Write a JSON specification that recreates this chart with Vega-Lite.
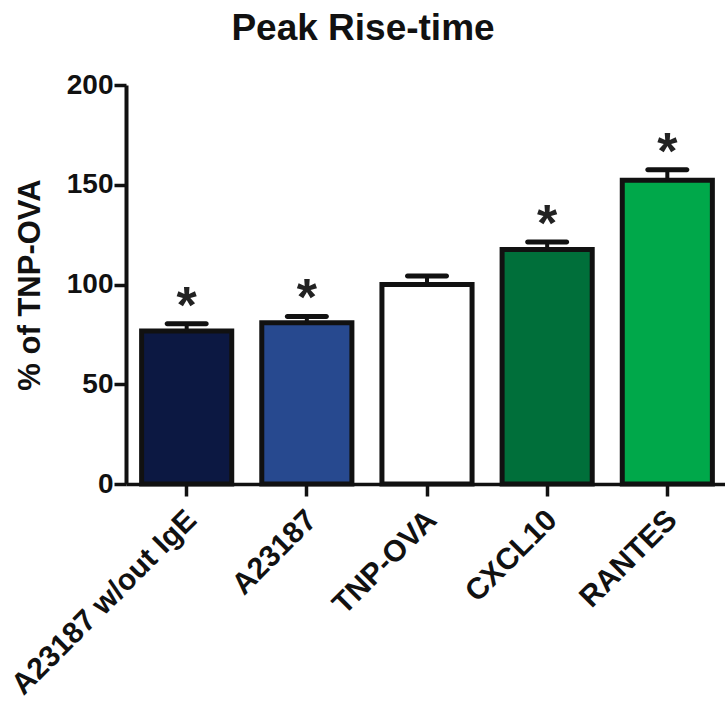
{
  "$schema": "https://vega.github.io/schema/vega-lite/v6.json",
  "autosize": "none",
  "padding": {"left": 126, "top": 85, "right": 0, "bottom": 220},
  "width": 602,
  "height": 399,
  "background": "white",
  "title": {"text": "Peak Rise-time", "font": "Liberation Sans", "fontSize": 37, "fontWeight": "bold", "color": "#111", "anchor": "middle", "frame": "group", "dx": -64, "baseline": "alphabetic", "offset": -6},
  "data": {"values": [
    {"group": "A23187 w/out IgE", "value": 76.7, "err": 80.3, "sig": "*", "color": "#0c1842"},
    {"group": "A23187", "value": 80.8, "err": 84.0, "sig": "*", "color": "#27498f"},
    {"group": "TNP-OVA", "value": 100, "err": 104.2, "sig": "", "color": "#ffffff"},
    {"group": "CXCL10", "value": 117.6, "err": 121.3, "sig": "*", "color": "#006f3a"},
    {"group": "RANTES", "value": 152.2, "err": 157.5, "sig": "*", "color": "#00a84a"}
  ]},
  "encoding": {
    "x": {"field": "group", "type": "nominal", "sort": null,
      "scale": {"paddingInner": 0.25, "paddingOuter": 0.13},
      "axis": {"title": null, "labelAngle": -45, "labelAlign": "right", "labelBaseline": "middle", "labelFont": "Liberation Sans", "labelFontSize": 30, "labelFontWeight": "bold", "labelColor": "#111", "domainColor": "#111", "domainWidth": 3.5, "tickColor": "#111", "tickWidth": 3.5, "tickSize": 12, "labelPadding": 19, "labelOffset": 5, "labelLimit": 400}}
  },
  "layer": [
    {
      "mark": {"type": "bar", "stroke": "#111", "strokeWidth": 5, "strokeJoin": "miter"},
      "encoding": {
        "y": {"field": "value", "type": "quantitative", "scale": {"domain": [0, 200], "nice": false},
          "axis": {"title": "% of TNP-OVA", "titleFont": "Liberation Sans", "titleFontSize": 31, "titleFontWeight": "bold", "titleColor": "#111", "titlePadding": 20,
            "values": [0, 50, 100, 150, 200], "grid": false, "labelFont": "Liberation Sans", "labelFontSize": 28, "labelFontWeight": "bold", "labelColor": "#111", "labelPadding": 1, "domainColor": "#111", "domainWidth": 4, "tickColor": "#111", "tickWidth": 3.5, "tickSize": 12}},
        "fill": {"field": "color", "type": "nominal", "scale": null}
      }
    },
    {
      "mark": {"type": "rule", "stroke": "#111", "strokeWidth": 4},
      "encoding": {"y": {"field": "value", "type": "quantitative"}, "y2": {"field": "err"}}
    },
    {
      "mark": {"type": "tick", "color": "#111", "size": 44, "thickness": 5, "cornerRadius": 2.5, "opacity": 1},
      "encoding": {"y": {"field": "err", "type": "quantitative"}}
    },
    {
      "mark": {"type": "text", "font": "Liberation Sans", "fontSize": 52, "fontWeight": "bold", "color": "#222", "baseline": "alphabetic", "dy": -1},
      "encoding": {"y": {"field": "err", "type": "quantitative"}, "text": {"field": "sig"}}
    }
  ],
  "config": {"view": {"stroke": null}}
}
